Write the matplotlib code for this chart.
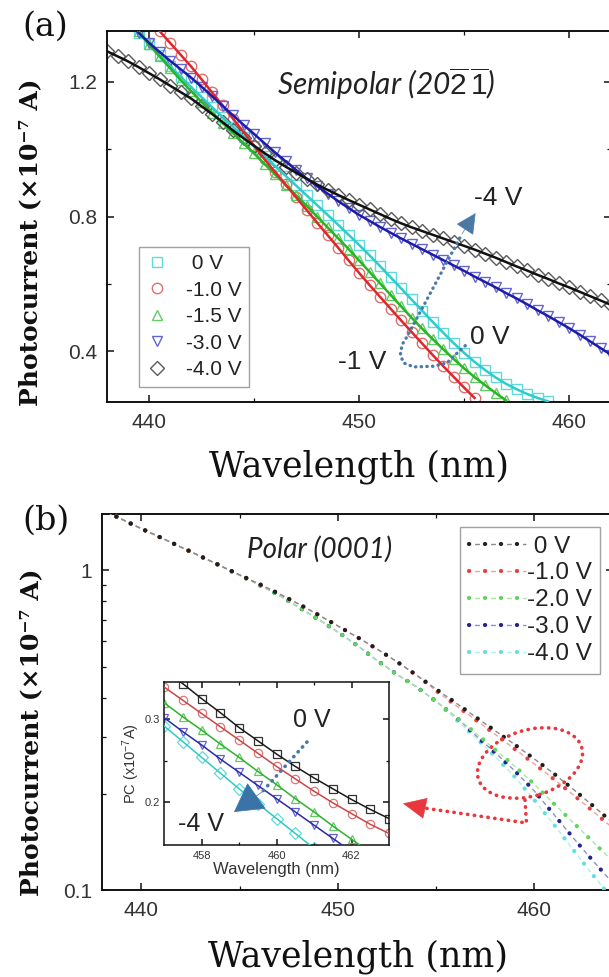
import numpy as np
import matplotlib
matplotlib.use("Agg")
import matplotlib.pyplot as plt
from matplotlib.patches import Ellipse, FancyArrowPatch
from matplotlib.lines import Line2D
from matplotlib.ticker import FixedLocator, NullFormatter

plt.rcParams['font.family'] = ['Liberation Sans', 'DejaVu Sans']
plt.rcParams['mathtext.fontset'] = 'custom'
plt.rcParams['mathtext.rm'] = 'Liberation Sans'
plt.rcParams['mathtext.it'] = 'Lato:italic'

# ---------------- panel (a): semipolar (20-2-1), step 0.5 nm ----------------
labels_a = [" 0 V", "-1.0 V", "-1.5 V", "-3.0 V", "-4.0 V"]
start_a = [439.5, 440.5, 439.5, 439.5, 438.0]
pc_a_0V = [1.345, 1.310, 1.278, 1.246, 1.215, 1.184, 1.154, 1.124, 1.095, 1.066,
           1.037, 1.008, 0.979, 0.950, 0.921, 0.892, 0.863, 0.834, 0.805, 0.776,
           0.746, 0.716, 0.685, 0.653, 0.620, 0.587, 0.554, 0.521, 0.488, 0.456,
           0.425, 0.396, 0.369, 0.345, 0.323, 0.304, 0.288, 0.274, 0.262, 0.252]
pc_a_1V = [1.350, 1.315, 1.280, 1.245, 1.207, 1.168, 1.130, 1.090, 1.050, 1.010,
           0.970, 0.932, 0.895, 0.857, 0.820, 0.782, 0.745, 0.708, 0.670, 0.633,
           0.597, 0.562, 0.527, 0.492, 0.458, 0.424, 0.390, 0.357, 0.325, 0.293, 0.262]
pc_a_15V = [1.350, 1.310, 1.275, 1.240, 1.205, 1.172, 1.140, 1.108, 1.077, 1.047,
            1.017, 0.987, 0.956, 0.925, 0.894, 0.863, 0.832, 0.800, 0.768, 0.736,
            0.704, 0.670, 0.636, 0.602, 0.568, 0.534, 0.500, 0.468, 0.437, 0.407,
            0.378, 0.350, 0.324, 0.300, 0.277, 0.255]
pc_a_3V = [1.345, 1.315, 1.288, 1.262, 1.237, 1.212, 1.185, 1.157, 1.128, 1.100,
           1.072, 1.045, 1.017, 0.990, 0.964, 0.938, 0.913, 0.890, 0.868, 0.846,
           0.825, 0.805, 0.787, 0.769, 0.752, 0.735, 0.719, 0.703, 0.687, 0.671,
           0.655, 0.639, 0.622, 0.606, 0.590, 0.573, 0.557, 0.540, 0.522, 0.505,
           0.487, 0.469, 0.450, 0.430, 0.410, 0.390]
pc_a_4V = [1.290, 1.275, 1.260, 1.243, 1.225, 1.207, 1.188, 1.169, 1.150, 1.127,
           1.104, 1.080, 1.055, 1.032, 1.010, 0.988, 0.967, 0.948, 0.930, 0.912,
           0.895, 0.879, 0.864, 0.849, 0.835, 0.821, 0.807, 0.793, 0.780, 0.768,
           0.757, 0.746, 0.735, 0.724, 0.713, 0.702, 0.690, 0.678, 0.665, 0.652,
           0.640, 0.627, 0.615, 0.602, 0.590, 0.577, 0.564, 0.551, 0.538]
series_a = [pc_a_0V, pc_a_1V, pc_a_15V, pc_a_3V, pc_a_4V]

# ---------------- panel (b): polar (0001), step 1 nm from 438 ----------------
labels_b = [" 0 V", "-1.0 V", "-2.0 V", "-3.0 V", "-4.0 V"]
wl_b = [438, 439, 440, 441, 442, 443, 444, 445, 446, 447, 448, 449, 450, 451,
        452, 453, 454, 455, 456, 457, 458, 459, 460, 461, 462, 463, 464]
pc_b_0V = [1.55, 1.445, 1.35, 1.265, 1.183, 1.107, 1.035, 0.968, 0.906, 0.845,
           0.785, 0.726, 0.670, 0.617, 0.567, 0.518, 0.470, 0.425, 0.385, 0.348,
           0.315, 0.285, 0.257, 0.231, 0.206, 0.183, 0.162]
pc_b_1V = [1.55, 1.445, 1.35, 1.265, 1.183, 1.107, 1.035, 0.968, 0.906, 0.845,
           0.785, 0.726, 0.670, 0.617, 0.567, 0.518, 0.470, 0.420, 0.378, 0.341,
           0.307, 0.276, 0.248, 0.222, 0.198, 0.176, 0.156]
pc_b_2V = [1.55, 1.445, 1.35, 1.265, 1.183, 1.107, 1.035, 0.965, 0.900, 0.836,
           0.767, 0.703, 0.641, 0.581, 0.522, 0.473, 0.432, 0.389, 0.348, 0.310,
           0.275, 0.244, 0.214, 0.186, 0.162, 0.141, 0.123]
pc_b_3V = [1.55, 1.445, 1.35, 1.265, 1.183, 1.107, 1.035, 0.965, 0.900, 0.836,
           0.767, 0.703, 0.641, 0.581, 0.522, 0.473, 0.432, 0.389, 0.348, 0.305,
           0.269, 0.236, 0.204, 0.172, 0.145, 0.123, 0.105]
pc_b_4V = [1.55, 1.445, 1.35, 1.265, 1.183, 1.107, 1.035, 0.965, 0.900, 0.836,
           0.767, 0.703, 0.641, 0.581, 0.522, 0.473, 0.432, 0.389, 0.342, 0.300,
           0.262, 0.226, 0.191, 0.160, 0.133, 0.111, 0.093]
series_b = [pc_b_0V, pc_b_1V, pc_b_2V, pc_b_3V, pc_b_4V]

# ---------------- inset of (b): step 0.5 nm from 457 ----------------
wl_in = [457.0, 457.5, 458.0, 458.5, 459.0, 459.5, 460.0, 460.5, 461.0, 461.5,
         462.0, 462.5, 463.0]
pc_in_0V = [0.360, 0.343, 0.325, 0.308, 0.290, 0.274, 0.258, 0.243, 0.229, 0.216,
            0.203, 0.191, 0.180]
pc_in_1V = [0.339, 0.323, 0.307, 0.291, 0.275, 0.259, 0.243, 0.228, 0.213, 0.199,
            0.186, 0.173, 0.162]
pc_in_2V = [0.320, 0.303, 0.287, 0.270, 0.254, 0.237, 0.221, 0.204, 0.188, 0.171,
            0.155, 0.139, 0.124]
pc_in_3V = [0.302, 0.285, 0.269, 0.252, 0.236, 0.220, 0.204, 0.188, 0.172, 0.156,
            0.140, 0.125]
pc_in_4V = [0.292, 0.273, 0.254, 0.235, 0.216, 0.198, 0.180, 0.162, 0.144, 0.127]
series_in = [pc_in_0V, pc_in_1V, pc_in_2V, pc_in_3V, pc_in_4V]

# ---------------- styles ----------------
a_line = ['#2ccccc', '#e0262b', '#25b525', '#1c1ca8', '#111111']
a_mark = ['#62dada', '#e07070', '#62cc62', '#6565d2', '#5a5a5a']
a_sym = ['s', 'o', '^', 'v', 'D']
a_ms = [7, 7.5, 7.5, 7.5, 7]
a_line_order = [0, 2, 1, 3, 4]
b_col = ['#1e1e1e', '#e8413c', '#5fd45f', '#23238f', '#62e0e0']
b_faint = ['#8a8a8a', '#f0a0a0', '#a8e8a8', '#9090c8', '#b0f0f0']
in_line = ['#1a1a1a', '#c84848', '#30b030', '#2a2aa8', '#30c8c8']
in_mark = ['#333333', '#e07575', '#60cc60', '#6060d0', '#60dada']
in_sym = ['s', 'o', '^', 'v', 'D']
DOT_LW = 3.0
dot_style = (0, (0.05, 3.78))            # scaled by lw -> ~11.5 pt period
dash_style = (7.5, (3.5, 8.0))           # lw 1 -> faint dash between dots
ARROW_BLUE = '#4a79a6'
RED_ANN = '#e8383d'

W, H = 609.0, 977.0
fig = plt.figure(figsize=(6.09, 9.77), dpi=100)


def F(px, py):
    return (px / W, 1.0 - py / H)


axA = fig.add_axes([107 / W, 1 - 402 / H, 504 / W, 371 / H])
axB = fig.add_axes([102 / W, 1 - 890 / H, 511 / W, 376 / H])
axI = fig.add_axes([164 / W, 1 - 845 / H, 225 / W, 163 / H])


def style(ax, lab=15, lw=1.4, maj=5, mino=3, xpad=8, ypad=7):
    for s in ax.spines.values():
        s.set_linewidth(lw)
        s.set_color('#111111')
    ax.tick_params(which='both', direction='in', top=True, right=True,
                   colors='#111111', labelcolor='#333333', labelsize=lab)
    ax.tick_params(which='major', length=maj, width=1.1)
    ax.tick_params(which='minor', length=mino, width=0.9)
    ax.tick_params(axis='x', which='both', pad=xpad)
    ax.tick_params(axis='y', which='both', pad=ypad)


serif = ['DejaVu Serif', 'DejaVu Sans']

# ================= panel (a) =================
style(axA)
for vals, st, mc, mk, ms in zip(series_a, start_a, a_mark, a_sym, a_ms):
    wl = st + 0.5 * np.arange(len(vals))
    axA.plot(wl, vals, ls='none', marker=mk, ms=ms, mfc='none', mec=mc, mew=1.0, zorder=2)
for i in a_line_order:
    vals = series_a[i]
    wl = start_a[i] + 0.5 * np.arange(len(vals))
    axA.plot(wl, vals, color=a_line[i], lw=1.8, zorder=3)
axA.set_xlim(438, 462)
axA.set_ylim(0.25, 1.35)
axA.xaxis.set_major_locator(FixedLocator([440, 450, 460]))
axA.xaxis.set_minor_locator(FixedLocator([445, 455]))
axA.yaxis.set_major_locator(FixedLocator([0.4, 0.8, 1.2]))
axA.yaxis.set_minor_locator(FixedLocator([0.6, 1.0]))
axA.set_yticklabels(['0.4', '0.8', '1.2'])

hA = [Line2D([], [], ls='none', marker=a_sym[i], ms=a_ms[i], mfc='none',
             mec=a_mark[i], mew=1.0) for i in range(5)]
legA = axA.legend(hA, labels_a, loc='upper left', bbox_to_anchor=(0.064, 0.418),
                  fontsize=15, frameon=True, fancybox=False, edgecolor='#8a8a8a',
                  handlelength=1.0, handletextpad=0.9, labelspacing=0.36,
                  borderpad=0.35, borderaxespad=0.0)
legA.get_frame().set_linewidth(1.0)
for t in legA.get_texts():
    t.set_color('#222222')

axA.set_xlabel('Wavelength (nm)', fontsize=25, family=serif, color='#111111')
axA.xaxis.set_label_coords(0.5, -0.128)
axA.xaxis.label.set_va('top')
axA.set_ylabel('Photocurrent (\u00d710\u207b\u2077 A)', fontsize=18, family=serif,
               fontweight='bold', color='#111111')
axA.yaxis.set_label_coords(-0.128, 0.43)

axA.text(*F(386, 84),
         'Semipolar (20$\\overline{\\mathit{2}}\\,\\overline{\\mathit{1}}$)',
         transform=fig.transFigure, fontsize=21.5, family='Lato', style='italic',
         color='#222222', ha='center', va='center')
for s, (px, py) in zip(['-4 V', '0 V', '-1 V'], [(498, 198), (490, 337), (362, 362)]):
    axA.text(*F(px, py), s, transform=fig.transFigure, fontsize=19,
             color='#222222', ha='center', va='center')

# dotted arrow in (a), in data coordinates of panel (a)
arr_x = [455.06, 454.67, 454.19, 453.55, 452.6, 452.12, 451.97, 452.05, 452.29, 454.9]
arr_y = [0.417, 0.395, 0.366, 0.356, 0.354, 0.366, 0.39, 0.42, 0.444, 0.748]
axA.plot(arr_x, arr_y, color=ARROW_BLUE, lw=2.4, ls=(0, (0.1, 1.6)),
         dash_capstyle='round', zorder=5)
axA.annotate('', xy=(455.55, 0.81), xytext=(454.9, 0.748),
             arrowprops=dict(arrowstyle='-|>,head_length=1.1,head_width=0.55',
                             mutation_scale=12, fc=ARROW_BLUE, ec=ARROW_BLUE, lw=0.5,
                             shrinkA=0, shrinkB=0), zorder=6)

fig.text(*F(22, 27), '(a)', fontsize=24, family=serif, ha='left', va='center',
         color='#111111')

# ================= panel (b) =================
style(axB)
for i in [4, 3, 2, 1, 0]:
    axB.plot(wl_b, series_b[i], color=b_faint[i], lw=1.0, ls=dash_style, zorder=3)
for i in [4, 3, 2, 1, 0]:
    axB.plot(wl_b, series_b[i], color=b_col[i], lw=DOT_LW, ls=dot_style,
             dash_capstyle='round', zorder=4)
axB.set_yscale('log')
axB.set_xlim(438, 464)
axB.set_ylim(0.1, 1.5)
axB.xaxis.set_major_locator(FixedLocator([440, 450, 460]))
axB.xaxis.set_minor_locator(FixedLocator([445, 455]))
axB.yaxis.set_major_locator(FixedLocator([0.1, 1.0]))
axB.yaxis.set_minor_locator(FixedLocator([0.2, 0.3, 0.4, 0.5, 0.6, 0.7, 0.8, 0.9]))
axB.yaxis.set_minor_formatter(NullFormatter())
axB.set_yticklabels(['0.1', '1'])

hB = [(Line2D([], [], color=b_faint[i], lw=1.0, ls=dash_style),
       Line2D([], [], color=b_col[i], lw=DOT_LW, ls=dot_style, dash_capstyle='round'))
      for i in range(5)]
legB = axB.legend(hB, labels_b, loc='upper left', bbox_to_anchor=(0.7006, 0.9654),
                  fontsize=17.5, frameon=True, fancybox=False, edgecolor='#8a8a8a',
                  handlelength=2.35, handletextpad=0.05, labelspacing=0.2,
                  borderpad=0.35, borderaxespad=0.0)
legB.get_frame().set_linewidth(1.0)
for t in legB.get_texts():
    t.set_color('#222222')

axB.set_xlabel('Wavelength (nm)', fontsize=25, family=serif, color='#111111')
axB.xaxis.set_label_coords(0.5, -0.132)
axB.xaxis.label.set_va('top')
axB.set_ylabel('Photocurrent (\u00d710\u207b\u2077 A)', fontsize=18, family=serif,
               fontweight='bold', color='#111111')
axB.yaxis.set_label_coords(-0.115, 0.42)

axB.text(*F(320, 549), 'Polar (0001)', transform=fig.transFigure, fontsize=20,
         family='Lato', style='italic', color='#222222', ha='center', va='center')

# red dotted ellipse + arrow (figure pixel positions)
ell = Ellipse((530 / 100.0, (H - 763) / 100.0), 1.08, 0.66, angle=17,
              transform=fig.dpi_scale_trans, fill=False, ec=RED_ANN, lw=2.6,
              ls=(0, (0.1, 1.8)), zorder=10)
ell.set_capstyle('round')
fig.add_artist(ell)
rp = [F(525, 800), F(526.5, 823), F(424, 808)]
fig.add_artist(Line2D([p[0] for p in rp], [p[1] for p in rp], transform=fig.transFigure,
                      color=RED_ANN, lw=2.6, ls=(0, (0.1, 1.8)),
                      dash_capstyle='round', zorder=10))
fig.add_artist(FancyArrowPatch(
    F(424, 808), F(403, 803.5), transform=fig.transFigure,
    arrowstyle='-|>,head_length=1.3,head_width=0.6', mutation_scale=12,
    fc=RED_ANN, ec=RED_ANN, lw=0.5, shrinkA=0, shrinkB=0, zorder=11))

fig.text(*F(22, 521), '(b)', fontsize=24, family=serif, ha='left', va='center',
         color='#111111')

# ================= inset =================
style(axI, lab=8, lw=1.1, maj=4, mino=2.5, xpad=4, ypad=3)
for i in range(5):
    axI.plot(wl_in[:len(series_in[i])], series_in[i], ls='none', marker=in_sym[i],
             ms=6, mfc='none', mec=in_mark[i], mew=0.9, zorder=2)
for i in range(5):
    axI.plot(wl_in[:len(series_in[i])], series_in[i], color=in_line[i], lw=1.1, zorder=3)
axI.set_xlim(457, 463)
axI.set_ylim(0.148, 0.345)
axI.xaxis.set_major_locator(FixedLocator([458, 460, 462]))
axI.xaxis.set_minor_locator(FixedLocator([459, 461]))
axI.yaxis.set_major_locator(FixedLocator([0.2, 0.3]))
axI.yaxis.set_minor_locator(FixedLocator([0.25]))
axI.set_yticklabels(['0.2', '0.3'])
axI.set_xlabel('Wavelength (nm)', fontsize=12, color='#333333', labelpad=1)
axI.set_ylabel('PC (x10$^{-7}$A)', fontsize=10.5, color='#333333', labelpad=2)

axI.text(*F(312, 720), '0 V', transform=fig.transFigure, fontsize=18,
         color='#222222', ha='center', va='center', zorder=12)
axI.text(*F(201, 824), '-4 V', transform=fig.transFigure, fontsize=18,
         color='#222222', ha='center', va='center', zorder=12)
ip = [F(307, 742), F(262, 792)]
fig.add_artist(Line2D([p[0] for p in ip], [p[1] for p in ip], transform=fig.transFigure,
                      color=ARROW_BLUE, lw=2.6, ls=(0, (0.1, 1.7)),
                      dash_capstyle='round', zorder=12))
fig.add_artist(FancyArrowPatch(
    F(262, 792), F(234, 812), transform=fig.transFigure,
    arrowstyle='-|>,head_length=1.6,head_width=0.9', mutation_scale=12,
    fc='#3a73a8', ec='#3a73a8', lw=0.5, shrinkA=0, shrinkB=0, zorder=13))

fig.savefig('out.png', dpi=100)
